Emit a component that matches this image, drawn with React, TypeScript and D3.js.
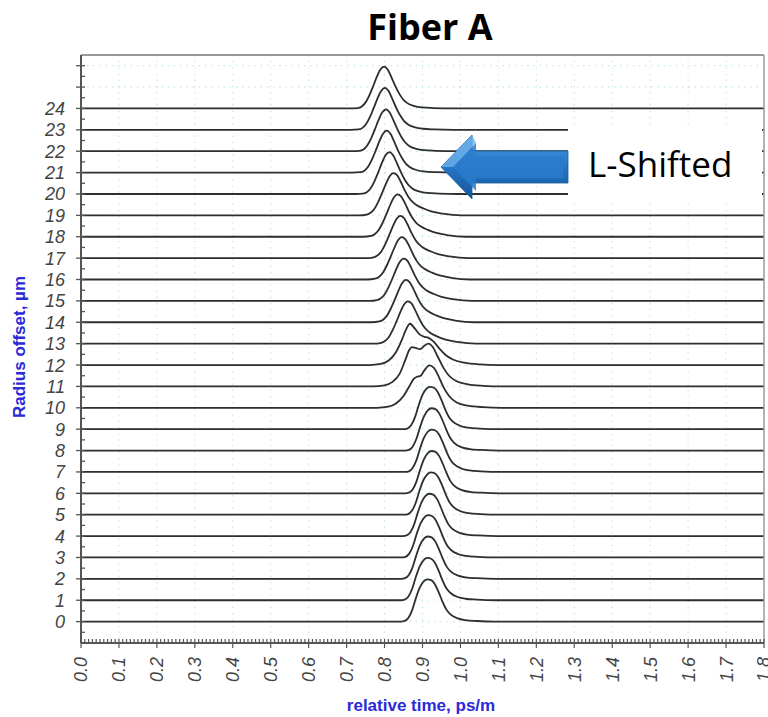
import React, { useEffect, useRef } from "react";
import * as d3 from "d3";

// DATA
const radiusOffsets = d3.range(0, 25);
const yTickLabels = radiusOffsets.map(String);
const xTickValues = d3.range(0, 19).map((i) => i / 10);

// peak time of each trace (ps/m), null = trace drawn from its own point list
const peakTimes: (number | null)[] = [
  0.913, 0.913, 0.914, 0.915, 0.918, 0.922, 0.924, 0.924, 0.924, 0.92,
  null, null, null,
  0.861, 0.856, 0.85, 0.845, 0.841, 0.834, 0.823,
  0.813, 0.806, 0.804, 0.801, 0.799,
];

// pulse shape: offset from peak -> height (in radius units)
const profileOffsets = [-0.09, -0.07, -0.06, -0.05, -0.04, -0.03, -0.02, -0.01, 0, 0.01, 0.02, 0.03, 0.04, 0.05, 0.06, 0.08, 0.1, 0.13, 0.18];
const lowerProfile = [0, 0, 0.03, 0.18, 0.55, 1.12, 1.6, 1.88, 1.98, 1.94, 1.74, 1.36, 0.92, 0.56, 0.35, 0.15, 0.07, 0.03, 0];
const middleProfile = [0, 0.04, 0.12, 0.3, 0.62, 1.02, 1.45, 1.82, 1.98, 1.88, 1.56, 1.18, 0.86, 0.64, 0.5, 0.32, 0.19, 0.08, 0];
const upperProfile = [0, 0.02, 0.08, 0.26, 0.58, 1.0, 1.45, 1.82, 1.96, 1.8, 1.42, 1.02, 0.68, 0.42, 0.26, 0.11, 0.05, 0.02, 0];

// traces with shoulders / double peaks: [time, height]
const trace10: [number, number][] = [
  [0.78, 0], [0.81, 0.05], [0.83, 0.2], [0.85, 0.55], [0.865, 1.0], [0.877, 1.35], [0.885, 1.45],
  [0.895, 1.5], [0.905, 1.75], [0.918, 1.98], [0.93, 1.87], [0.943, 1.45], [0.955, 0.98],
  [0.97, 0.55], [0.99, 0.25], [1.02, 0.1], [1.06, 0.03], [1.11, 0],
];
const trace11: [number, number][] = [
  [0.77, 0], [0.8, 0.05], [0.82, 0.2], [0.84, 0.6], [0.855, 1.25], [0.865, 1.7], [0.872, 1.84],
  [0.882, 1.8], [0.893, 1.74], [0.905, 1.9], [0.915, 2.0], [0.928, 1.82], [0.94, 1.4],
  [0.955, 0.88], [0.97, 0.5], [0.99, 0.24], [1.02, 0.1], [1.06, 0.03], [1.11, 0],
];
const trace12: [number, number][] = [
  [0.76, 0], [0.79, 0.05], [0.81, 0.2], [0.83, 0.6], [0.845, 1.15], [0.855, 1.6], [0.867, 1.93],
  [0.88, 1.7], [0.893, 1.42], [0.905, 1.32], [0.915, 1.28], [0.93, 1.08], [0.945, 0.76],
  [0.96, 0.48], [0.98, 0.26], [1.01, 0.11], [1.05, 0.03], [1.1, 0],
];
const specialTraces: Record<number, [number, number][]> = { 10: trace10, 11: trace11, 12: trace12 };

export default function App() {
  const ref = useRef<SVGSVGElement>(null);

  useEffect(() => {
    const svg = d3.select(ref.current);
    svg.selectAll("*").remove();

    const left = 81, right = 764, top = 55, bottom = 643;
    const x = d3.scaleLinear().domain([0, 1.8]).range([left, right]);
    const y = d3.scaleLinear().domain([-1, 26.5]).range([bottom, top]);

    svg.append("rect").attr("width", 768).attr("height", 717).attr("fill", "#fff");

    // TITLE
    svg.append("text")
      .attr("x", 430).attr("y", 40)
      .attr("text-anchor", "middle")
      .attr("font-family", "'Open Sans', sans-serif")
      .attr("font-weight", 700)
      .attr("font-size", 36)
      .text("Fiber A");

    // GRID (dotted)
    const grid = svg.append("g").attr("stroke", "#bfe2e8").attr("stroke-width", 1.2).attr("stroke-dasharray", "1.2,5");
    xTickValues.slice(1, -1).forEach((t) => {
      grid.append("line").attr("x1", x(t)).attr("x2", x(t)).attr("y1", top).attr("y2", bottom);
    });
    d3.range(0, 27).forEach((v) => {
      grid.append("line").attr("x1", left).attr("x2", right).attr("y1", y(v)).attr("y2", y(v));
    });

    // TRACES
    const line = d3.line<[number, number]>()
      .x((d) => x(d[0]))
      .y((d) => y(d[1]))
      .curve(d3.curveMonotoneX);

    radiusOffsets.forEach((r) => {
      let pts: [number, number][];
      const peak = peakTimes[r];
      if (peak === null) {
        pts = specialTraces[r];
      } else {
        const prof = r <= 9 ? lowerProfile : r <= 19 ? middleProfile : upperProfile;
        pts = profileOffsets.map((d, i) => [peak + d, prof[i]] as [number, number]);
      }
      const full: [number, number][] = [[0, r], ...pts.map((p) => [p[0], r + p[1]] as [number, number]), [1.8, r]];
      svg.append("path")
        .attr("d", line(full))
        .attr("fill", "none")
        .attr("stroke", "#2e2e2e")
        .attr("stroke-width", 1.8)
        .attr("stroke-linejoin", "round");
    });

    // FRAME
    svg.append("line").attr("x1", left).attr("x2", right).attr("y1", top).attr("y2", top)
      .attr("stroke", "#9a9a9a").attr("stroke-width", 2);
    svg.append("line").attr("x1", right).attr("x2", right).attr("y1", top).attr("y2", bottom)
      .attr("stroke", "#9a9a9a").attr("stroke-width", 1.5);

    // LABEL BOX + ARROW
    svg.append("rect").attr("x", 568).attr("y", 125).attr("width", 194).attr("height", 75).attr("fill", "#fff");
    svg.append("text")
      .attr("x", 588).attr("y", 177)
      .attr("font-family", "'Open Sans', sans-serif")
      .attr("font-size", 35)
      .attr("fill", "#000")
      .text("L-Shifted");

    const defs = svg.append("defs");
    const grad = defs.append("linearGradient").attr("id", "arrowGrad").attr("x1", 0).attr("y1", 0).attr("x2", 0).attr("y2", 1);
    grad.append("stop").attr("offset", "0%").attr("stop-color", "#4a9be2");
    grad.append("stop").attr("offset", "55%").attr("stop-color", "#2273c4");
    grad.append("stop").attr("offset", "100%").attr("stop-color", "#165596");

    const arrow = [[441, 167], [472, 135], [472, 151], [568, 151], [568, 183], [472, 183], [472, 199]];
    svg.append("polygon")
      .attr("points", arrow.map((p) => p.join(",")).join(" "))
      .attr("fill", "url(#arrowGrad)")
      .attr("stroke", "#1a5a9c")
      .attr("stroke-width", 0.8);
    const inner = [[453, 167], [476, 143], [476, 156], [563, 156], [563, 178], [476, 178], [476, 191]];
    svg.append("polygon")
      .attr("points", inner.map((p) => p.join(",")).join(" "))
      .attr("fill", "#2a7bcc")
      .attr("opacity", 0.85);
    svg.append("polygon")
      .attr("points", "441,167 453,167 476,143 472,135")
      .attr("fill", "#6db0ea").attr("opacity", 0.8);

    // AXES
    const axisColor = "#555";
    svg.append("line").attr("x1", left).attr("x2", left).attr("y1", top).attr("y2", bottom)
      .attr("stroke", axisColor).attr("stroke-width", 2);
    svg.append("line").attr("x1", left).attr("x2", right).attr("y1", bottom).attr("y2", bottom)
      .attr("stroke", axisColor).attr("stroke-width", 2);

    const yAxis = svg.append("g").attr("stroke", axisColor).attr("stroke-width", 1.3);
    d3.range(0, 27).forEach((v) => {
      yAxis.append("line").attr("x1", left - 5).attr("x2", left + 4).attr("y1", y(v)).attr("y2", y(v));
    });
    d3.range(-0.5, 26.5, 1).forEach((v) => {
      yAxis.append("line").attr("x1", left).attr("x2", left + 4).attr("y1", y(v)).attr("y2", y(v));
    });
    svg.append("g")
      .selectAll("text")
      .data(radiusOffsets)
      .join("text")
      .attr("x", 65)
      .attr("y", (d) => y(d))
      .attr("dy", "0.36em")
      .attr("text-anchor", "end")
      .attr("font-family", "'Liberation Sans', Arial, sans-serif")
      .attr("font-style", "italic")
      .attr("font-size", 18)
      .attr("fill", "#444")
      .text((d, i) => yTickLabels[i]);

    const xAxis = svg.append("g").attr("stroke", axisColor).attr("stroke-width", 1.2);
    d3.range(0, 181).forEach((i) => {
      const t = i / 100;
      const major = i % 10 === 0;
      xAxis.append("line")
        .attr("x1", x(t)).attr("x2", x(t))
        .attr("y1", bottom - 4)
        .attr("y2", major ? bottom + 5 : bottom);
    });
    svg.append("g")
      .selectAll("text")
      .data(xTickValues)
      .join("text")
      .attr("transform", (d) => `translate(${x(d)},657) rotate(-90)`)
      .attr("dy", "0.36em")
      .attr("text-anchor", "end")
      .attr("font-family", "'Liberation Sans', Arial, sans-serif")
      .attr("font-style", "italic")
      .attr("font-size", 18)
      .attr("fill", "#444")
      .text((d) => d.toFixed(1));

    // AXIS TITLES
    svg.append("text")
      .attr("transform", "translate(25,347) rotate(-90)")
      .attr("text-anchor", "middle")
      .attr("font-family", "'Liberation Sans', Arial, sans-serif")
      .attr("font-weight", 700)
      .attr("font-size", 17)
      .attr("fill", "#2a2ad6")
      .text("Radius offset, µm");
    svg.append("text")
      .attr("x", 421).attr("y", 711)
      .attr("text-anchor", "middle")
      .attr("font-family", "'Liberation Sans', Arial, sans-serif")
      .attr("font-weight", 700)
      .attr("font-size", 17)
      .attr("fill", "#2a2ad6")
      .text("relative time, ps/m");
  }, []);

  return (
    <svg
      ref={ref}
      width={768}
      height={717}
      style={{ position: "absolute", left: 0, top: 0, display: "block" }}
    />
  );
}
